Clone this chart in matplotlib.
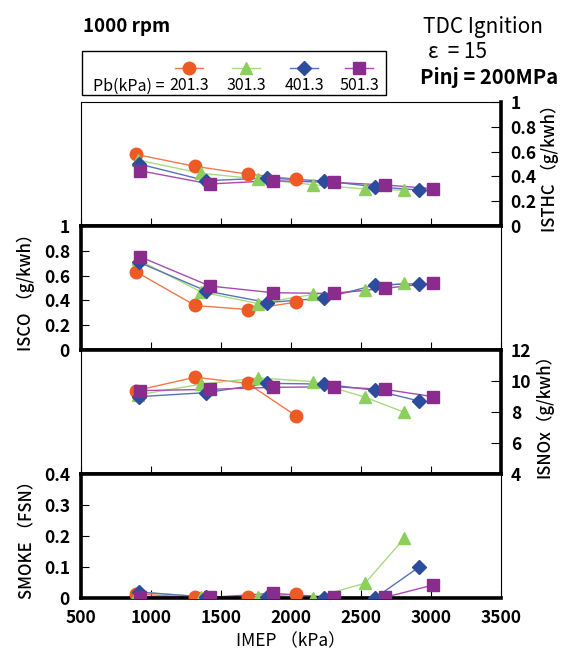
import matplotlib
matplotlib.use("Agg")
import matplotlib.pyplot as plt
from matplotlib.patches import Rectangle

plt.rcParams['font.family'] = ['Noto Sans CJK JP', 'DejaVu Sans']

# operating points (IMEP, kPa) for each boost pressure
pb_labels = ["201.3", "301.3", "401.3", "501.3"]
imep_201 = [890, 1315, 1690, 2035]
imep_301 = [905, 1360, 1765, 2158, 2530, 2810]
imep_401 = [915, 1395, 1830, 2238, 2600, 2915]
imep_501 = [920, 1420, 1870, 2305, 2670, 3015]

# ISTHC (g/kWh)
hc_201 = [0.578, 0.481, 0.419, 0.378]
hc_301 = [0.532, 0.425, 0.379, 0.333, 0.298, 0.288]
hc_401 = [0.500, 0.365, 0.387, 0.363, 0.317, 0.290]
hc_501 = [0.446, 0.339, 0.365, 0.352, 0.331, 0.301]

# ISCO (g/kWh)
co_201 = [0.633, 0.359, 0.326, 0.386]
co_301 = [0.730, 0.467, 0.375, 0.448, 0.481, 0.543]
co_401 = [0.707, 0.476, 0.383, 0.418, 0.524, 0.535]
co_501 = [0.753, 0.516, 0.462, 0.456, 0.497, 0.541]

# ISNOx (g/kWh)
nox_201 = [9.38, 10.24, 9.85, 7.76]
nox_301 = [9.10, 9.80, 10.20, 9.96, 8.95, 7.98]
nox_401 = [8.99, 9.25, 9.85, 9.80, 9.40, 8.71]
nox_501 = [9.38, 9.46, 9.59, 9.63, 9.46, 8.99]

# SMOKE (FSN)
smoke_201 = [0.013, 0.002, 0.002, 0.012]
smoke_301 = [0.020, 0.004, 0.002, 0.000, 0.048, 0.193]
smoke_401 = [0.019, 0.003, 0.002, 0.000, 0.000, 0.100]
smoke_501 = [0.004, 0.002, 0.015, 0.002, 0.002, 0.042]

imeps = [imep_201, imep_301, imep_401, imep_501]
colors = ['#ee5a24', '#8ccf5c', '#2c4d9e', '#8a2b8e']
line_colors = ['#f2784a', '#a6dc80', '#5872b8', '#a84bb0']
markers = ['o', '^', 'D', 's']
msizes = [9, 9, 7, 8.5]

panels = [
    ([hc_201, hc_301, hc_401, hc_501], (0, 1), 0.2, 'right', 'ISTHC （g/kwh）'),
    ([co_201, co_301, co_401, co_501], (0, 1), 0.2, 'left', 'ISCO （g/kwh）'),
    ([nox_201, nox_301, nox_401, nox_501], (4, 12), 2, 'right', 'ISNOx（g/kwh）'),
    ([smoke_201, smoke_301, smoke_401, smoke_501], (0, 0.4), 0.1, 'left', 'SMOKE （FSN）'),
]

W, H = 565, 655
fig = plt.figure(figsize=(W / 100, H / 100), dpi=100)

left, right = 81 / W, 501 / W
tops = [102, 226, 350, 474]
ph = 124

thin, thick = 0.8, 2.6
for i, (series, ylim, step, side, label) in enumerate(panels):
    ax = fig.add_axes([left, 1 - (tops[i] + ph) / H, right - left, ph / H])
    for k in range(4):
        ax.plot(imeps[k], series[k], color=line_colors[k], lw=1.0, zorder=2)
        ax.plot(imeps[k], series[k], linestyle='none', marker=markers[k],
                ms=msizes[k], color=colors[k], mec=colors[k], zorder=3)
    ax.set_xlim(500, 3500)
    ax.set_ylim(*ylim)
    n = int(round((ylim[1] - ylim[0]) / step))
    yt = [ylim[0] + j * step for j in range(n + 1)]
    ax.set_yticks(yt)
    ax.set_yticklabels([('%g' % round(v, 2)) for v in yt], fontsize=12.5,
                       fontweight='bold')
    ax.set_xticks([500, 1000, 1500, 2000, 2500, 3000, 3500])
    ax.tick_params(axis='x', direction='in', length=6, width=0.8, top=False,
                   bottom=True, labelbottom=(i == 3), labelsize=12.5, pad=8)
    if side == 'right':
        ax.yaxis.tick_right()
        ax.yaxis.set_label_position('right')
        ax.tick_params(axis='y', direction='in', length=7, width=0.8, pad=7)
        ax.spines['right'].set_linewidth(thick)
        ax.spines['left'].set_linewidth(thin)
    else:
        ax.tick_params(axis='y', direction='in', length=6, width=0.8, pad=8)
        ax.spines['left'].set_linewidth(thick)
        ax.spines['right'].set_linewidth(thin)
    ax.spines['top'].set_linewidth(thin if i == 0 else thick)
    ax.spines['bottom'].set_linewidth(thick)
    for lab in ax.get_xticklabels():
        lab.set_fontweight('bold')
    ax.set_ylabel(label, fontsize=12, fontweight='medium',
                  labelpad=6 if side == 'left' else 3, rotation=90)
    if i == 3:
        ax.set_xlabel('IMEP （kPa）', fontsize=12.5, labelpad=4)

# header texts
fig.text(83 / W, 1 - 27 / H, '1000 rpm', fontsize=13.5, fontweight='bold',
         va='center', ha='left')
fig.text(423 / W, 1 - 27 / H, 'TDC Ignition', fontsize=15, va='center', ha='left')
fig.text(428 / W, 1 - 52 / H, 'ε  = 15', fontsize=15, va='center', ha='left')
fig.text(420 / W, 1 - 77 / H, 'Pinj = 200MPa', fontsize=14.5, fontweight='bold',
         va='center', ha='left')

# legend box
fig.patches.append(Rectangle((82 / W, 1 - 95 / H), (386 - 82) / W, 44 / H,
                             transform=fig.transFigure, fill=False,
                             edgecolor='black', lw=1.0))
fig.text(93 / W, 1 - 86 / H, 'Pb(kPa) = ', fontsize=11.5, va='center', ha='left')
lab_x = [189, 246, 304, 359]
for k in range(4):
    fig.text(lab_x[k] / W, 1 - 86 / H, pb_labels[k], fontsize=11.5,
             va='center', ha='center')
    fig.add_artist(plt.Line2D([(lab_x[k] - 14) / W, (lab_x[k] + 14) / W],
                              [1 - 68 / H, 1 - 68 / H], color=line_colors[k],
                              lw=1.0, transform=fig.transFigure))
    fig.add_artist(plt.Line2D([lab_x[k] / W], [1 - 68 / H], marker=markers[k],
                              ms=msizes[k], color=colors[k], linestyle='none',
                              transform=fig.transFigure))

fig.savefig('out.png', dpi=100)
